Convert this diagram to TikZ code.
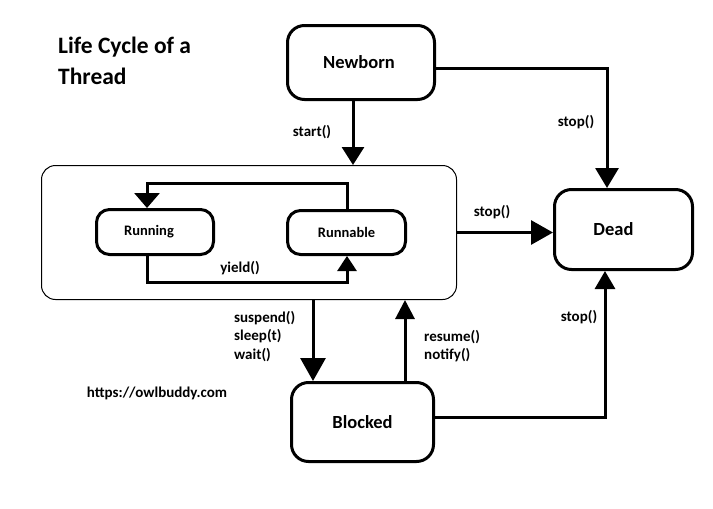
\documentclass[tikz,border=0pt]{standalone}
\usepackage{fontspec}
\setmainfont{Carlito}
\usetikzlibrary{arrows.meta}
\tikzset{
  state/.style={draw, line width=3pt, rounded corners=17pt, inner sep=0pt,
    font=\fontsize{18.5}{22}\selectfont\bfseries},
  inner/.style={draw, line width=3pt, rounded corners=13pt, inner sep=0pt,
    font=\fontsize{14.5}{17}\selectfont\bfseries},
  lbl/.style={inner sep=0pt, font=\fontsize{15}{18.5}\selectfont\bfseries},
  conn/.style={line width=3pt},
}
\begin{document}
\begin{tikzpicture}[x=1pt,y=-1pt]
\useasboundingbox (0,0) rectangle (713,509);
% nodes
\node[inner sep=0pt, anchor=north west, align=left,
  font=\fontsize{23.5}{31}\selectfont\bfseries] (title) at (58,37) {Life Cycle of a\\Thread};
\node[state, minimum width=147pt, minimum height=74pt] (Newborn) at (361,62.5) {\hspace*{-4pt}Newborn};
\node[draw, line width=1pt, rounded corners=14pt, minimum width=415pt, minimum height=134pt] (outer) at (249,232.5) {};
\node[inner, minimum width=117pt, minimum height=45pt] (Running) at (155,232) {\hspace*{-12pt}Running};
\node[inner, minimum width=118pt, minimum height=44pt] (Runnable) at (346.5,232.5) {Runnable};
\node[state, minimum width=138pt, minimum height=80pt] (Dead) at (623.5,229.5) {\hspace*{-20pt}Dead};
\node[state, minimum width=142pt, minimum height=79pt] (Blocked) at (362.5,422) {Blocked};
% labels
\node[lbl] (lstart) at (312,132) {start()};
\node[lbl] (lstop1) at (576,122) {stop()};
\node[lbl] (lstop2) at (492,212) {stop()};
\node[lbl] (lstop3) at (579,317) {stop()};
\node[lbl] (lyield) at (240,268) {yield()};
\node[lbl, anchor=north west, align=left] (lsusp) at (234,311) {suspend()\\sleep(t)\\wait()};
\node[lbl, anchor=north west, align=left] (lres) at (424,330) {resume()\\notify()};
\node[lbl] (url) at (157,393) {https://owlbuddy.com};
% helper coordinates
\coordinate (xs) at (353,0);
\coordinate (xd) at (607,0);
\coordinate (xd2) at (605,0);
\coordinate (yn) at (0,68);
\coordinate (xl) at (147,0);
\coordinate (xr) at (347,0);
\coordinate (yt) at (0,183);
\coordinate (yb) at (0,282);
\coordinate (xsu) at (313,0);
\coordinate (xre) at (405,0);
\coordinate (ybl) at (0,417);
% connectors
\draw[conn, -{Triangle[length=20pt,width=23pt]}] (Newborn.east |- yn) -| (Dead.north -| xd);
\draw[conn, -{Triangle[length=18pt,width=22pt]}] (Newborn.south -| xs) -- (outer.north -| xs);
\draw[conn, -{Triangle[length=15pt,width=25pt]}] (Runnable.north -| xr) |- (yt -| xl) -- (Running.north -| xl);
\draw[conn, -{Triangle[length=15pt,width=19pt]}] (Running.south -| xl) |- (yb -| xr) -- (Runnable.south -| xr);
\draw[conn, -{Triangle[length=22pt,width=24pt]}] (outer.east) -- (Dead.west |- outer.east);
\draw[conn, -{Triangle[length=23pt,width=25pt]}] (outer.south -| xsu) -- (Blocked.north -| xsu);
\draw[conn, -{Triangle[length=19pt,width=19pt]}] (Blocked.north -| xre) -- (outer.south -| xre);
\draw[conn, -{Triangle[length=18pt,width=20pt]}] (Blocked.east |- ybl) -| (Dead.south -| xd2);
\end{tikzpicture}
\end{document}
